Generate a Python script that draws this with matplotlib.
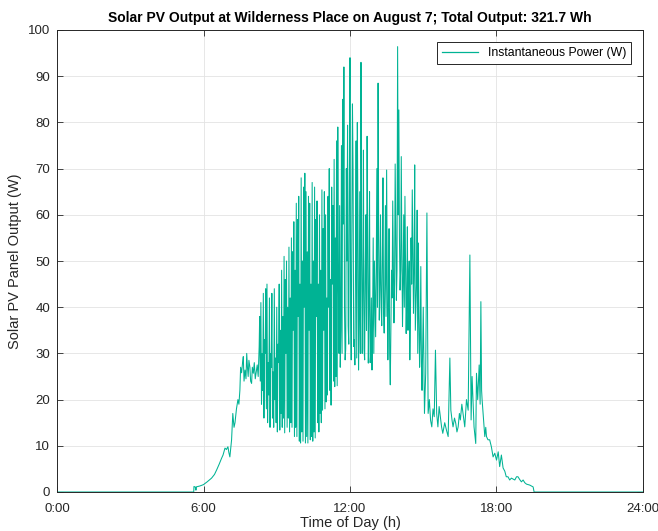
import matplotlib
matplotlib.use("Agg")
import matplotlib.pyplot as plt
import numpy as np

# ---- data (hours of day, watts) ----
morning_hours = [0.0, 5.60, 5.61, 5.68, 5.69, 5.70, 5.85, 6.00, 6.15, 6.33, 6.45, 6.54, 6.64, 6.74,
                 6.80, 6.88, 6.94, 7.00, 7.04, 7.08, 7.15, 7.20, 7.25, 7.29, 7.35, 7.41, 7.45, 7.49,
                 7.52, 7.56, 7.60, 7.63, 7.66, 7.70, 7.74, 7.77, 7.80, 7.83, 7.86, 7.90, 7.93, 7.97,
                 8.00, 8.04, 8.08, 8.12, 8.17, 8.20, 8.24, 8.28]
morning_watts = [0, 0, 1.2, 1.0, 0.4, 1.1, 1.3, 1.6, 2.2, 3.0, 3.8, 4.8, 6.0, 7.3,
                 8.0, 9.5, 9.2, 9.8, 8.5, 7.6, 11.3, 17.0, 14.0, 15.0, 18.0, 20.0, 19.0, 22.0,
                 27.0, 25.8, 28.0, 29.3, 24.0, 26.4, 24.5, 30.0, 27.0, 25.0, 28.5, 27.0, 24.0, 23.5,
                 27.0, 25.7, 28.0, 24.5, 26.4, 27.5, 25.0, 31.5]

forenoon_hours = [8.300, 8.325, 8.350, 8.375, 8.400, 8.425, 8.450, 8.475, 8.500, 8.525, 8.550, 8.575,
                  8.600, 8.625, 8.650, 8.675, 8.700, 8.725, 8.750, 8.775, 8.800, 8.825, 8.850, 8.875,
                  8.900, 8.925, 8.950, 8.975, 9.000, 9.025, 9.050, 9.075, 9.100, 9.125, 9.150, 9.175,
                  9.200, 9.225, 9.250, 9.275, 9.300, 9.325, 9.350, 9.375, 9.400, 9.425, 9.450, 9.475,
                  9.500, 9.525, 9.550, 9.575, 9.600, 9.625, 9.650, 9.675, 9.700, 9.725, 9.750, 9.775,
                  9.800, 9.825, 9.850, 9.875, 9.900, 9.925, 9.950, 9.975, 10.000, 10.025, 10.050, 10.075,
                  10.100, 10.125, 10.150, 10.175, 10.200, 10.225, 10.250, 10.275, 10.300, 10.325, 10.350,
                  10.375, 10.400, 10.425, 10.450, 10.475, 10.500, 10.525, 10.550, 10.575, 10.600, 10.625,
                  10.650, 10.675, 10.700, 10.725, 10.750, 10.775, 10.800, 10.825, 10.850, 10.875, 10.900,
                  10.925, 10.950, 10.975, 11.000, 11.025, 11.050, 11.075, 11.100, 11.125, 11.150, 11.175,
                  11.200, 11.225, 11.250, 11.275, 11.300, 11.325, 11.350, 11.375, 11.400, 11.425, 11.450,
                  11.475]
forenoon_watts = [38, 24, 41, 19, 30, 22, 43, 16, 33, 30, 44, 18,
                  45, 15, 28, 21, 42, 14, 30, 27, 43, 16, 26, 14,
                  44, 20, 29, 15, 40, 13, 32, 28, 45, 13.4, 35, 17,
                  48, 14, 38, 16, 51, 12.8, 46, 30, 50, 14, 40, 16,
                  53, 13, 42, 15, 55, 14, 52, 35, 58.5, 12, 48, 14,
                  62.5, 12, 59, 38, 64, 11, 45, 10.6, 68, 13, 50, 11,
                  66, 40, 69, 10.6, 65, 12, 52, 10.6, 64, 35, 62.5,
                  11.3, 45, 12, 67, 11, 50, 13, 66, 11.7, 59, 38,
                  63, 15, 45, 13, 60, 17, 48, 15, 65.4, 17.7, 57,
                  35, 65, 18, 60, 19.5, 42, 21, 64, 40, 70, 22,
                  46, 18.8, 66, 45, 62, 24, 72, 22.8, 55, 25, 76,
                  23]

midday_hours = [11.50, 11.55, 11.60, 11.65, 11.70, 11.75, 11.80, 11.85, 11.90, 11.95, 12.00, 12.05,
                12.10, 12.15, 12.20, 12.25, 12.30, 12.35, 12.40, 12.45, 12.50, 12.55, 12.60, 12.65,
                12.70, 12.75, 12.80, 12.85, 12.90, 12.95, 13.00, 13.05, 13.10, 13.15, 13.20, 13.25,
                13.30, 13.35, 13.40, 13.45, 13.50, 13.55, 13.60, 13.65, 13.70, 13.75, 13.80, 13.85,
                13.90, 13.95, 14.00, 14.05, 14.10, 14.15, 14.20, 14.25, 14.30, 14.35, 14.40, 14.45,
                14.50, 14.55, 14.60, 14.65, 14.70, 14.75, 14.80, 14.85, 14.90, 14.95, 15.00, 15.05,
                15.10, 15.15, 15.20, 15.25, 15.30, 15.35, 15.40, 15.45, 15.50, 15.55, 15.60, 15.65,
                15.70, 15.75, 15.80]
midday_watts = [79, 30, 27, 75, 85, 92, 28.6, 70, 79.4, 32, 94, 28.6,
                84, 31.5, 27.5, 76, 80, 26.4, 65, 93, 30, 74, 28.6, 60,
                77, 27.9, 65, 30, 26.4, 55, 50, 33.6, 70, 88.5, 37.2, 60,
                36, 68, 34.4, 62, 69.7, 28.6, 57, 23.2, 48, 63, 36.6, 71,
                41.5, 96.4, 82.7, 43.7, 72.6, 35.8, 60, 64, 34.3, 57.4, 45, 28.6,
                55, 65.4, 38.7, 70.8, 40, 61, 53.9, 27, 48.8, 22, 40, 17,
                25.7, 60.4, 17, 20, 15.5, 14.1, 18, 16.3, 30.7, 17, 14.1, 18.5,
                16.3, 14.1, 12.7]

# in-between readings of the noon period
noon_extra_hours = [11.525, 11.575, 11.625, 11.675, 11.725, 11.775, 11.825, 11.875, 11.925, 11.975,
                    12.025, 12.075, 12.125, 12.175, 12.225, 12.275, 12.325, 12.375, 12.425, 12.475,
                    12.525, 12.575, 12.625, 12.675, 12.725, 12.775, 12.825, 12.875, 12.925, 12.975,
                    13.025, 13.075, 13.125, 13.175, 13.225, 13.275, 13.325, 13.375, 13.425, 13.475,
                    13.525, 13.575, 13.625, 13.675, 13.725, 13.775, 13.825, 13.875, 13.925, 13.975,
                    14.025, 14.075, 14.125, 14.175, 14.225, 14.275, 14.325, 14.375, 14.425, 14.475,
                    14.525, 14.575, 14.625, 14.675, 14.725, 14.775, 14.825, 14.875, 14.925]
noon_extra_watts = [45, 62, 35, 30, 58, 40, 31, 50, 36, 67,
                    40, 55, 70, 33, 48, 29, 60, 38, 30, 52,
                    44, 31, 48, 35, 55, 40, 28, 42, 36, 30,
                    42, 48, 40, 55, 45, 40, 50, 39, 45, 38,
                    46, 40, 30, 35, 42, 50, 45, 55, 48, 60,
                    55, 48, 52, 45, 40, 48, 42, 35, 50, 38,
                    45, 52, 48, 35, 45, 30, 38, 33, 28]

evening_hours = [15.88, 15.95, 16.02, 16.09, 16.13, 16.18, 16.22, 16.28, 16.33, 16.38, 16.43, 16.48,
                 16.52, 16.58, 16.63, 16.70, 16.77, 16.84, 16.91, 16.96, 17.00, 17.05, 17.08, 17.15,
                 17.18, 17.23, 17.29, 17.33, 17.36, 17.39, 17.41, 17.45, 17.52, 17.56, 17.59, 17.65,
                 17.72, 17.79, 17.86, 17.93, 18.00, 18.07, 18.13, 18.20, 18.27, 18.34, 18.40, 18.47,
                 18.54, 18.61, 18.68, 18.75, 18.82, 18.88, 18.95, 19.02, 19.09, 19.16, 19.23, 19.30,
                 19.36, 19.43, 19.50, 19.54, 24.0]
evening_watts = [15, 13.4, 12, 29, 17.7, 15.5, 14.1, 16, 14.9, 13, 14.1, 17,
                 15.6, 19, 17, 14.1, 20, 17.7, 51.3, 15.6, 25, 18, 14.1, 10.5,
                 25.7, 20, 27.5, 19, 41.2, 22, 20, 17, 12, 14, 12, 11.3,
                 11.3, 9.8, 7.6, 8.4, 6.9, 8.7, 5.5, 8.0, 5.2, 4.5, 3.3, 3.3,
                 2.6, 3.0, 2.8, 2.6, 3.3, 3.3, 2.7, 2.2, 2.6, 2.0, 1.7, 1.6,
                 1.5, 1.3, 1.1, 0, 0]

x_ticks = [0, 6, 12, 18, 24]
x_tick_labels = ["0:00", "6:00", "12:00", "18:00", "24:00"]
y_ticks = [0, 10, 20, 30, 40, 50, 60, 70, 80, 90, 100]

title = "Solar PV Output at Wilderness Place on August 7; Total Output: 321.7 Wh"
series_label = "Instantaneous Power (W)"

# ---- plot ----
plt.rcParams['font.family'] = ['Liberation Sans', 'DejaVu Sans']

hours = np.array(morning_hours + forenoon_hours + midday_hours + noon_extra_hours + evening_hours)
watts = np.array(morning_watts + forenoon_watts + midday_watts + noon_extra_watts + evening_watts)
order = np.argsort(hours, kind='stable')
hours, watts = hours[order], watts[order]

fig = plt.figure(figsize=(6.58, 5.31), dpi=100)
ax = fig.add_axes([57 / 658, 39 / 531, (643 - 57) / 658, (492 - 30) / 531])

ax.plot(hours, watts, color='#00B394', lw=0.75, label=series_label)

ax.set_xlim(0, 24)
ax.set_ylim(0, 100)
ax.set_xticks(x_ticks)
ax.set_xticklabels(x_tick_labels)
ax.set_yticks(y_ticks)
ax.grid(True, color='#E3E3E3', lw=0.6)
ax.set_axisbelow(True)
ax.tick_params(direction='in', length=4, width=0.6, colors='#262626',
               labelsize=9.5, top=True, right=True)
ax.tick_params(axis='x', pad=8)
ax.tick_params(axis='y', pad=5)
for s in ax.spines.values():
    s.set_color('#262626')
    s.set_linewidth(0.7)

ax.set_title(title, fontsize=10, fontweight='bold', color='black', pad=6)
ax.set_xlabel("Time of Day (h)", fontsize=10.5, color='#262626', labelpad=1)
ax.set_ylabel("Solar PV Panel Output (W)", fontsize=10.5, color='#262626', labelpad=4)

leg = ax.legend(loc='upper right', fontsize=8.8, frameon=True, fancybox=False,
                edgecolor='#262626', framealpha=1, borderpad=0.4, handlelength=2.9,
                borderaxespad=1.0)
leg.get_frame().set_linewidth(0.7)
for h in leg.get_lines():
    h.set_linewidth(0.9)

fig.savefig("out.png", dpi=100)
